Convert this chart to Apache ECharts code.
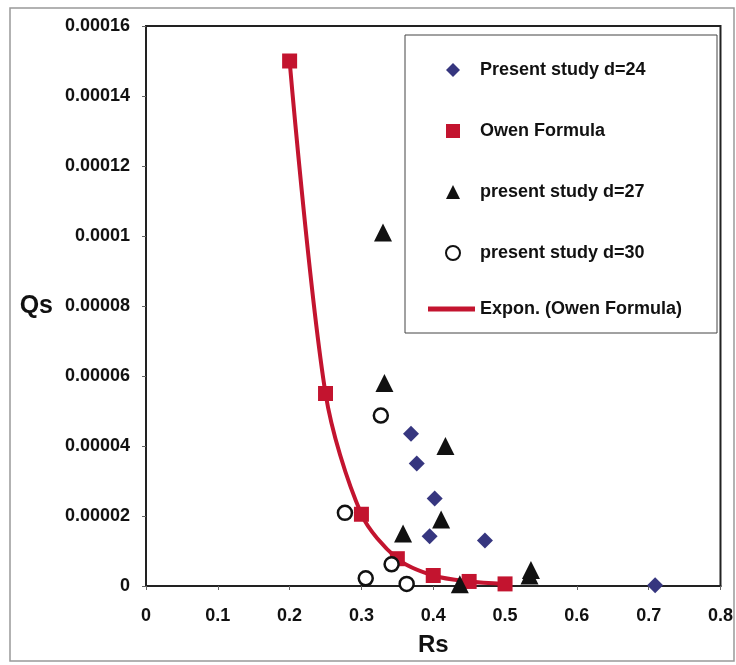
<!DOCTYPE html>
<html>
<head>
<meta charset="utf-8">
<script src="https://cdn.jsdelivr.net/npm/echarts@6/dist/echarts.min.js"></script>
<style>
  html, body { margin: 0; padding: 0; background: #fff; }
  #main { width: 736px; height: 665px; }
</style>
</head>
<body>
<div id="main"></div>
<script>
// chart init
var chart = echarts.init(document.getElementById('main'));

// Present study d=24 (diamonds)
var d24Rs = [0.369, 0.377, 0.402, 0.395, 0.472, 0.709];
var d24Qs = [0.0000435, 0.000035, 0.000025, 0.0000142, 0.000013, 0.0000002];
// Owen Formula (squares)
var owenRs = [0.2, 0.25, 0.3, 0.35, 0.4, 0.45, 0.5];
var owenQs = [0.00015, 0.000055, 0.0000205, 0.0000078, 0.000003, 0.0000013, 0.0000006];
// present study d=27 (triangles)
var d27Rs = [0.330, 0.332, 0.417, 0.411, 0.358, 0.536, 0.534, 0.437];
var d27Qs = [0.000101, 0.000058, 0.00004, 0.000019, 0.000015, 0.0000046, 0.000003, 0.0000005];
// present study d=30 (open circles)
var d30Rs = [0.327, 0.277, 0.342, 0.306, 0.363];
var d30Qs = [0.0000487, 0.0000209, 0.0000062, 0.0000022, 0.0000006];

var markerNames = ['Present study d=24', 'Owen Formula', 'present study d=27', 'present study d=30'];
var trendName = 'Expon. (Owen Formula)';

function pairs(xs, ys) {
  return xs.map(function (x, i) { return [x, ys[i]]; });
}

var red = '#c3142f';
var navy = '#36367f';
var font = 'Liberation Sans, Arial, sans-serif';
var legendText = { fontFamily: font, fontWeight: 'bold', fontSize: 18, color: '#111', lineHeight: 14 };

var option = {
  backgroundColor: '#fff',
  animation: false,
  grid: {
    left: 146, right: 15, top: 26, bottom: 79,
    show: true, borderColor: '#222', borderWidth: 2
  },
  // 外框 + 图例框
  graphic: [
    {
      type: 'rect',
      shape: { x: 10, y: 8, width: 724, height: 653 },
      style: { fill: 'none', stroke: '#999', lineWidth: 1.5 },
      z: -1
    },
    {
      type: 'rect',
      shape: { x: 405, y: 35, width: 312, height: 298 },
      style: { fill: '#fff', stroke: '#444', lineWidth: 1 },
      z: 5
    }
  ],
  legend: [
    {
      data: markerNames,
      orient: 'vertical',
      left: 445, top: 61, padding: 0,
      itemWidth: 14, itemHeight: 14, itemGap: 43,
      textStyle: Object.assign({ padding: [0, 0, 0, 15] }, legendText),
      z: 10
    },
    {
      data: [{ name: trendName, icon: 'rect' }],
      orient: 'vertical',
      left: 428, top: 300, padding: 0,
      itemWidth: 47, itemHeight: 5,
      textStyle: legendText,
      z: 10
    }
  ],
  xAxis: {
    type: 'value', min: 0, max: 0.8, interval: 0.1,
    name: 'Rs', nameLocation: 'middle', nameGap: 47,
    nameTextStyle: { fontFamily: font, fontWeight: 'bold', fontSize: 24, color: '#111' },
    axisLine: { lineStyle: { color: '#222', width: 2 } },
    axisTick: { show: true, length: 4, lineStyle: { color: '#666' } },
    splitLine: { show: false },
    axisLabel: {
      margin: 21, fontFamily: font, fontWeight: 'bold', fontSize: 18, color: '#111',
      formatter: function (v) { return String(parseFloat(v.toFixed(1))); }
    }
  },
  yAxis: {
    type: 'value', min: 0, max: 0.00016, interval: 0.00002,
    name: 'Qs', nameLocation: 'middle', nameGap: 93, nameRotate: 0,
    nameTextStyle: { fontFamily: font, fontWeight: 'bold', fontSize: 25, color: '#111' },
    axisLine: { lineStyle: { color: '#222', width: 2 } },
    axisTick: { show: true, length: 4, lineStyle: { color: '#666' } },
    splitLine: { show: false },
    axisLabel: {
      margin: 16, fontFamily: font, fontWeight: 'bold', fontSize: 18, color: '#111',
      formatter: function (v) { return String(parseFloat(v.toFixed(5))); }
    }
  },
  series: [
    {
      name: trendName, type: 'line', z: 1,
      data: pairs(owenRs, owenQs),
      smooth: 0.3, symbol: 'none',
      lineStyle: { color: red, width: 4 },
      itemStyle: { color: red }
    },
    {
      name: 'Present study d=24', type: 'scatter', z: 3,
      data: pairs(d24Rs, d24Qs),
      symbol: 'diamond', symbolSize: 16,
      itemStyle: { color: navy, opacity: 1 }
    },
    {
      name: 'Owen Formula', type: 'scatter', z: 3,
      data: pairs(owenRs, owenQs),
      symbol: 'rect', symbolSize: 15,
      itemStyle: { color: red, opacity: 1 }
    },
    {
      name: 'present study d=27', type: 'scatter', z: 3,
      data: pairs(d27Rs, d27Qs),
      symbol: 'triangle', symbolSize: 18,
      itemStyle: { color: '#111', opacity: 1 }
    },
    {
      name: 'present study d=30', type: 'scatter', z: 3,
      data: pairs(d30Rs, d30Qs),
      symbol: 'circle', symbolSize: 14,
      itemStyle: { color: '#fff', borderColor: '#111', borderWidth: 2.5, opacity: 1 }
    }
  ]
};

chart.setOption(option);
</script>
</body>
</html>
